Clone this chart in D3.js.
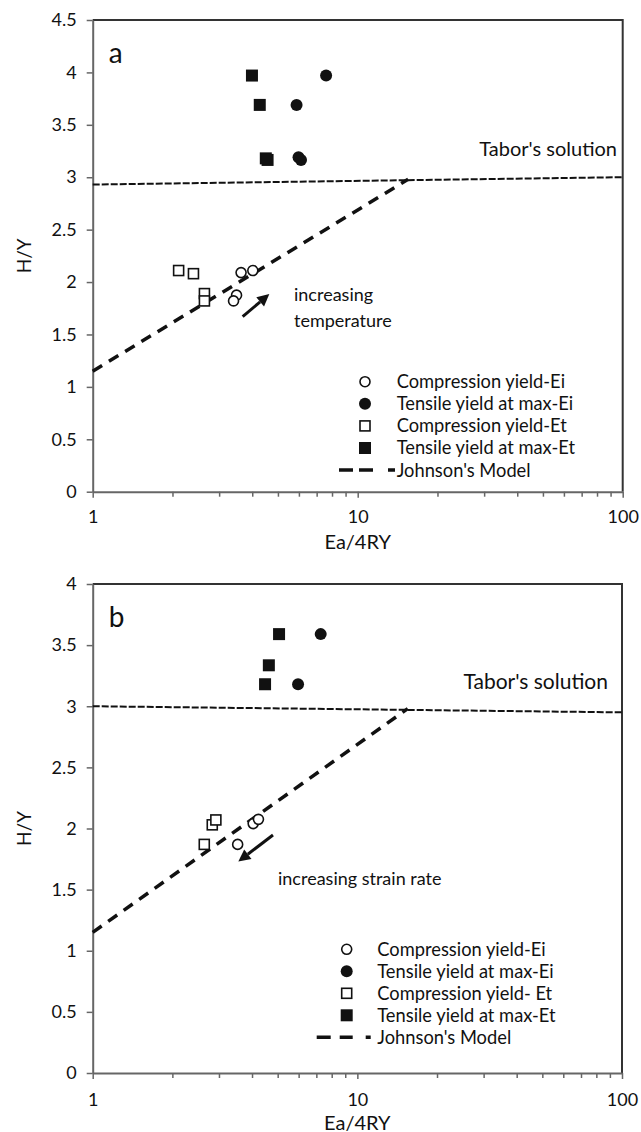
<!DOCTYPE html>
<html>
<head>
<meta charset="utf-8">
<script src="https://cdn.jsdelivr.net/npm/d3@7"></script>
<style>
  html, body { margin: 0; padding: 0; background: #fff; }
  svg { display: block; font-family: Lato, "Open Sans", sans-serif; }
</style>
</head>
<body>
<svg id="chart" width="641" height="1132"></svg>
<script>
// ---- Panel a: temperature series (Ea/4RY, H/Y) ----
const aCompressionEi = [[3.63, 2.09], [4.02, 2.11], [3.49, 1.875], [3.40, 1.82]];
const aTensileEi     = [[7.6, 3.97], [5.88, 3.69], [5.98, 3.19], [6.11, 3.165]];
const aCompressionEt = [[2.11, 2.11], [2.40, 2.08], [2.64, 1.89], [2.64, 1.82]];
const aTensileEt     = [[3.99, 3.97], [4.27, 3.69], [4.50, 3.18], [4.57, 3.165]];
const aTabor   = [[1, 2.93], [100, 3.0]];
const aJohnson = [[1, 1.15], [15.5, 2.98]];
const aArrow   = [[3.68, 1.67], [4.64, 1.885]];

// ---- Panel b: strain-rate series ----
const bCompressionEi = [[3.53, 1.87], [4.04, 2.04], [4.23, 2.075]];
const bTensileEi     = [[7.27, 3.59], [5.97, 3.18]];
const bCompressionEt = [[2.64, 1.87], [2.83, 2.03], [2.92, 2.07]];
const bTensileEt     = [[5.06, 3.59], [4.63, 3.335], [4.48, 3.18]];
const bTabor   = [[1, 3.0], [100, 2.95]];
const bJohnson = [[1, 1.15], [15.5, 2.98]];
const bArrow   = [[4.8, 1.947], [3.55, 1.73]];

// Axis ticks
const xMajorTicks = [1, 10, 100];
const xMinorTicks = [2, 3, 4, 5, 6, 7, 8, 9, 20, 30, 40, 50, 60, 70, 80, 90];
const aYTicks = [0, 0.5, 1, 1.5, 2, 2.5, 3, 3.5, 4, 4.5];
const bYTicks = [0, 0.5, 1, 1.5, 2, 2.5, 3, 3.5, 4];

// Legend entries
const aLegendLabels = ["Compression yield-Ei", "Tensile yield at max-Ei", "Compression yield-Et", "Tensile yield at max-Et", "Johnson's Model"];
const bLegendLabels = ["Compression yield-Ei", "Tensile yield at max-Ei", "Compression yield- Et", "Tensile yield at max-Et", "Johnson's Model"];
const legendKinds = ["openCircle", "filledCircle", "openSquare", "filledSquare", "line"];

const svg = d3.select("#chart");

function marker(g, kind, cx, cy) {
  if (kind === "openCircle") {
    g.append("circle").attr("cx", cx).attr("cy", cy).attr("r", 5)
      .attr("fill", "#fff").attr("stroke", "#111").attr("stroke-width", 1.6);
  } else if (kind === "filledCircle") {
    g.append("circle").attr("cx", cx).attr("cy", cy).attr("r", 6).attr("fill", "#111");
  } else if (kind === "openSquare") {
    g.append("rect").attr("x", cx - 5).attr("y", cy - 5).attr("width", 10).attr("height", 10)
      .attr("fill", "#fff").attr("stroke", "#111").attr("stroke-width", 1.6);
  } else if (kind === "filledSquare") {
    g.append("rect").attr("x", cx - 6).attr("y", cy - 6).attr("width", 12).attr("height", 12).attr("fill", "#111");
  }
}

function drawPanel(cfg) {
  const x = d3.scaleLog().domain([1, 100]).range([cfg.left, cfg.right]);
  const y = d3.scaleLinear().domain([0, cfg.yMax]).range([cfg.bottom, cfg.top]);
  const g = svg.append("g");

  // frame: top and right borders
  g.append("path")
    .attr("d", `M${cfg.left},${cfg.top}H${cfg.right}V${cfg.bottom}`)
    .attr("fill", "none").attr("stroke", "#333").attr("stroke-width", 2);

  // y axis
  const yAxis = g.append("g").attr("transform", `translate(${cfg.left},0)`)
    .call(d3.axisLeft(y).tickValues(cfg.yTicks).tickFormat(d3.format("")).tickSize(6).tickPadding(10).tickSizeOuter(0));
  yAxis.select(".domain").attr("stroke", "#666").attr("stroke-width", 2);
  yAxis.selectAll(".tick line").attr("stroke", "#666").attr("stroke-width", 1.5);
  yAxis.selectAll("text").attr("font-size", 18).attr("fill", "#111").attr("font-family", "Lato");

  // x axis minor ticks
  const xMinor = g.append("g").attr("transform", `translate(0,${cfg.bottom})`)
    .call(d3.axisBottom(x).tickValues(xMinorTicks).tickFormat("").tickSize(5).tickSizeOuter(0));
  xMinor.select(".domain").remove();
  xMinor.selectAll(".tick line").attr("stroke", "#666").attr("stroke-width", 1.5);

  // x axis major ticks with labels
  const xAxis = g.append("g").attr("transform", `translate(0,${cfg.bottom})`)
    .call(d3.axisBottom(x).tickValues(xMajorTicks).tickFormat(d3.format("d")).tickSize(6).tickPadding(cfg.xPad).tickSizeOuter(0));
  xAxis.select(".domain").attr("stroke", "#666").attr("stroke-width", 2);
  xAxis.selectAll(".tick line").attr("stroke", "#666").attr("stroke-width", 1.5);
  xAxis.selectAll("text").attr("font-size", 18).attr("fill", "#111").attr("font-family", "Lato");

  // axis titles
  g.append("text").attr("x", x(10)).attr("y", cfg.bottom + cfg.xTitleOffset)
    .attr("text-anchor", "middle").attr("font-size", 20).attr("fill", "#111").text("Ea/4RY");
  g.append("text")
    .attr("transform", `translate(31,${(cfg.top + cfg.bottom) / 2}) rotate(-90)`)
    .attr("text-anchor", "middle").attr("font-size", 19).attr("fill", "#111").text("H/Y");

  // panel letter
  g.append("text").attr("x", cfg.left + 16).attr("y", cfg.top + 43)
    .attr("font-size", 28).attr("fill", "#111").text(cfg.letter);

  const line = d3.line().x(d => x(d[0])).y(d => y(d[1]));

  // Tabor's solution
  g.append("path").datum(cfg.tabor).attr("d", line)
    .attr("fill", "none").attr("stroke", "#111").attr("stroke-width", 2).attr("stroke-dasharray", "7,2");
  g.append("text").attr("x", cfg.taborTextX).attr("y", cfg.taborTextY)
    .attr("text-anchor", "end").attr("font-size", cfg.taborFont).attr("fill", "#111").text("Tabor's solution");

  // Johnson's model
  g.append("path").datum(cfg.johnson).attr("d", line)
    .attr("fill", "none").attr("stroke", "#111").attr("stroke-width", 3.5).attr("stroke-dasharray", "11,8");

  // data markers
  cfg.series.forEach(s => {
    s.data.forEach(d => marker(g, s.kind, x(d[0]), y(d[1])));
  });

  // arrow annotation
  const [p0, p1] = cfg.arrow.map(d => [x(d[0]), y(d[1])]);
  const ang = Math.atan2(p1[1] - p0[1], p1[0] - p0[0]);
  const headLen = 12, headW = 6;
  const base = [p1[0] - headLen * Math.cos(ang), p1[1] - headLen * Math.sin(ang)];
  g.append("line").attr("x1", p0[0]).attr("y1", p0[1]).attr("x2", base[0]).attr("y2", base[1])
    .attr("stroke", "#111").attr("stroke-width", 3);
  g.append("path")
    .attr("d", `M${p1[0]},${p1[1]}L${base[0] - headW * Math.sin(ang)},${base[1] + headW * Math.cos(ang)}L${base[0] + headW * Math.sin(ang)},${base[1] - headW * Math.cos(ang)}Z`)
    .attr("fill", "#111");

  // annotation text
  cfg.notes.forEach(n => {
    g.append("text").attr("x", n.x).attr("y", n.y).attr("font-size", 18).attr("fill", "#111").text(n.text);
  });

  // legend
  const lg = g.append("g");
  cfg.legendLabels.forEach((lab, i) => {
    const ly = cfg.legendY + i * cfg.legendStep;
    const kind = legendKinds[i];
    if (kind === "line") {
      lg.append("line").attr("x1", cfg.legendLineX0).attr("x2", cfg.legendLineX0 + 56)
        .attr("y1", ly).attr("y2", ly).attr("stroke", "#111").attr("stroke-width", 3.5)
        .attr("stroke-dasharray", cfg.legendDash);
    } else {
      marker(lg, kind, cfg.legendSymX, ly);
    }
    lg.append("text").attr("x", cfg.legendTextX).attr("y", ly).attr("dy", "0.35em")
      .attr("font-size", 18.3).attr("fill", "#111").text(lab);
  });
}

drawPanel({
  letter: "a", left: 92.7, right: 622.7, top: 20, bottom: 491.7, yMax: 4.5, yTicks: aYTicks,
  xPad: 13, xTitleOffset: 57,
  tabor: aTabor, johnson: aJohnson, arrow: aArrow,
  taborTextX: 617, taborTextY: 156, taborFont: 20,
  series: [
    { kind: "openCircle", data: aCompressionEi },
    { kind: "filledCircle", data: aTensileEi },
    { kind: "openSquare", data: aCompressionEt },
    { kind: "filledSquare", data: aTensileEt }
  ],
  notes: [{ x: 294, y: 301, text: "increasing" }, { x: 294, y: 327, text: "temperature" }],
  legendLabels: aLegendLabels, legendY: 381.7, legendStep: 22.1,
  legendSymX: 365, legendTextX: 396.7, legendLineX0: 339, legendDash: "14,6,14,15,7"
});

drawPanel({
  letter: "b", left: 92.7, right: 622, top: 584, bottom: 1073, yMax: 4, yTicks: bYTicks,
  xPad: 14, xTitleOffset: 56.5,
  tabor: bTabor, johnson: bJohnson, arrow: bArrow,
  taborTextX: 608, taborTextY: 689, taborFont: 21,
  series: [
    { kind: "openCircle", data: bCompressionEi },
    { kind: "filledCircle", data: bTensileEi },
    { kind: "openSquare", data: bCompressionEt },
    { kind: "filledSquare", data: bTensileEt }
  ],
  notes: [{ x: 278, y: 884.5, text: "increasing strain rate" }],
  legendLabels: bLegendLabels, legendY: 949.3, legendStep: 22,
  legendSymX: 346.7, legendTextX: 377.3, legendLineX0: 316.7, legendDash: "14,9,13,13,5"
});
</script>
</body>
</html>
